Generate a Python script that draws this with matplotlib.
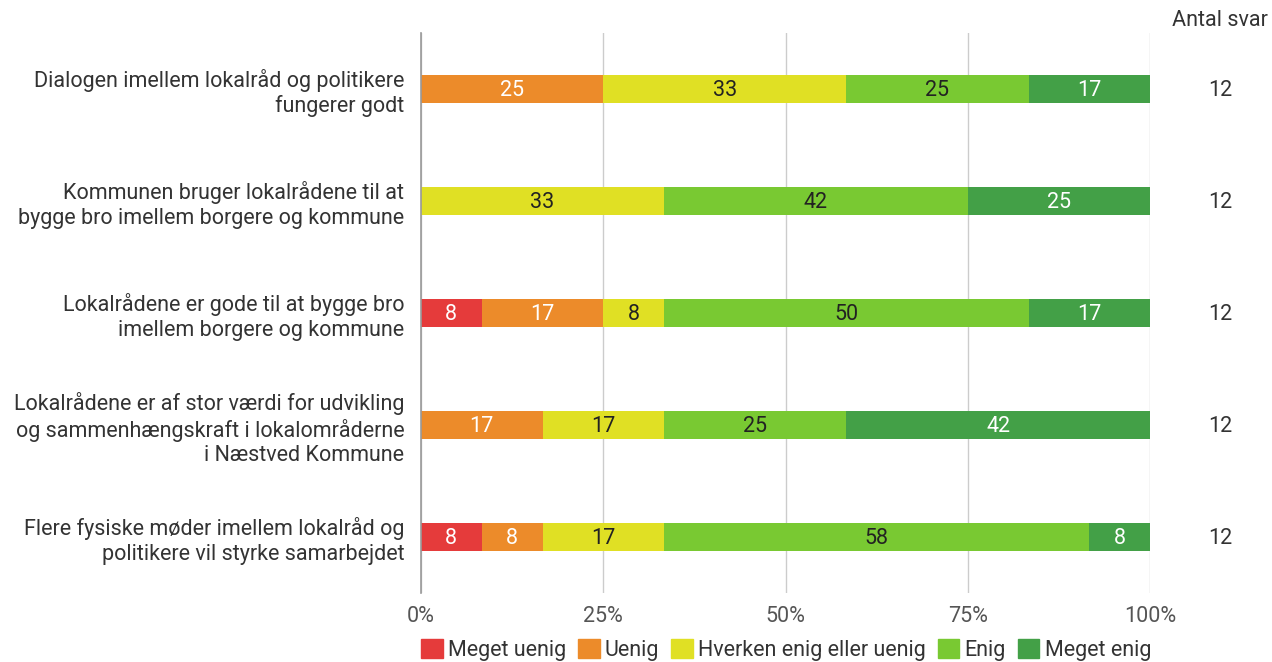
import matplotlib
matplotlib.use("Agg")
import matplotlib.pyplot as plt
from matplotlib.patches import Patch

plt.rcParams['font.family'] = ['Roboto', 'DejaVu Sans']

categories = [
    "Dialogen imellem lokalråd og politikere\nfungerer godt",
    "Kommunen bruger lokalrådene til at\nbygge bro imellem borgere og kommune",
    "Lokalrådene er gode til at bygge bro\nimellem borgere og kommune",
    "Lokalrådene er af stor værdi for udvikling\nog sammenhængskraft i lokalområderne\ni Næstved Kommune",
    "Flere fysiske møder imellem lokalråd og\npolitikere vil styrke samarbejdet",
]
series_names = ["Meget uenig", "Uenig", "Hverken enig eller uenig", "Enig", "Meget enig"]
# counts of answers (out of Antal svar)
meget_uenig = [0, 0, 1, 0, 1]
uenig = [3, 0, 2, 2, 1]
hverken = [4, 4, 1, 2, 2]
enig = [3, 5, 6, 3, 7]
meget_enig = [2, 3, 2, 5, 1]
antal_svar = [12, 12, 12, 12, 12]

colors = ["#e53b3b", "#ec8b2a", "#e0e024", "#79c932", "#43a047"]
text_colors = ["white", "white", "#222222", "#222222", "white"]

fig = plt.figure(figsize=(12.72, 6.62), dpi=100)
ax = fig.add_axes([421/1272, 1-593/662, 729/1272, 560/662])

FS = 15.5
series = [meget_uenig, uenig, hverken, enig, meget_enig]
y = list(range(len(categories)))
left = [0.0]*len(categories)
for s, vals in enumerate(series):
    pct = [v / n * 100 for v, n in zip(vals, antal_svar)]
    ax.barh(y, pct, left=left, height=28/112, color=colors[s], zorder=3)
    for i, (p, l) in enumerate(zip(pct, left)):
        if p > 0:
            ax.text(l + p/2, i + 0.01, f"{round(p)}", ha="center", va="center",
                    color=text_colors[s], fontsize=FS, zorder=4)
    left = [l + p for l, p in zip(left, pct)]

ax.set_xlim(0, 100)
ax.set_ylim(len(categories)-0.5, -0.5)
ax.set_yticks(y)
ax.set_yticklabels(categories, fontsize=FS, color="#333333", linespacing=1.2)
ax.tick_params(axis="y", length=0, pad=12)
ax.set_xticks([0, 25, 50, 75, 100])
ax.set_xticklabels(["0%", "25%", "50%", "75%", "100%"], fontsize=FS, color="#555555")
ax.tick_params(axis="x", length=0, pad=9)
ax.grid(axis="x", color="#cccccc", linewidth=1, zorder=0)
for sp in ["top", "right", "bottom"]:
    ax.spines[sp].set_visible(False)
ax.spines["left"].set_color("#999999")
ax.spines["left"].set_linewidth(1.2)
ax.spines["left"].set_zorder(5)

for i, n in enumerate(antal_svar):
    ax.text(1.096, i + 0.01, str(n), transform=ax.get_yaxis_transform(), ha="center",
            va="center", fontsize=FS, color="#333333")
fig.text(1220/1272, 1-21/662, "Antal svar", ha="center", va="center",
         fontsize=FS, color="#333333")

handles = [Patch(facecolor=c, edgecolor=c) for c in colors]
fig.legend(handles, series_names, loc="center", bbox_to_anchor=(786/1272, 1-650/662),
           ncol=5, frameon=False, fontsize=FS, handlelength=1.0, handleheight=1.0,
           handletextpad=0.25, columnspacing=0.55, labelcolor="#333333")

fig.savefig("out.png", dpi=100)
